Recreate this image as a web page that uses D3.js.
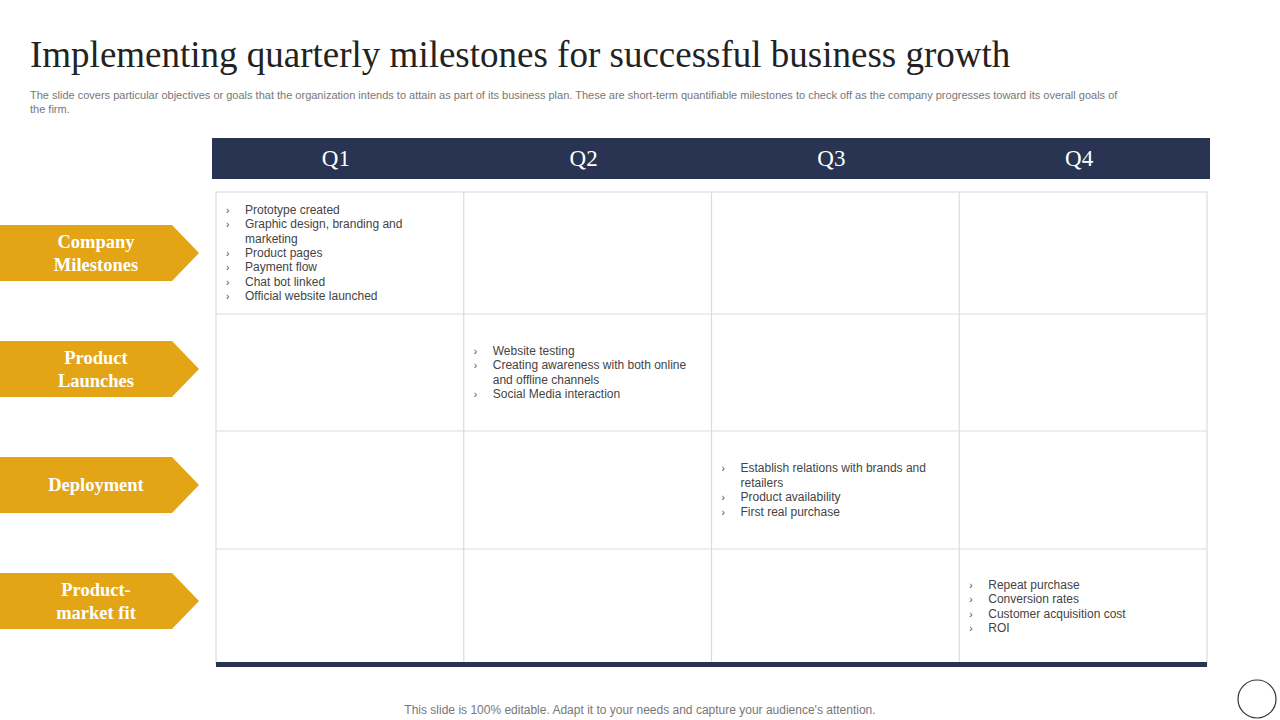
<!DOCTYPE html>
<html lang="en">
<head>
<meta charset="UTF-8">
<title>Quarterly milestones</title>
<script src="https://d3js.org/d3.v7.min.js"></script>
<style>
  body { margin: 0; background: #fff; }
  svg { display: block; }
</style>
</head>
<body>
<svg id="chart" width="1280" height="720"></svg>
<script>
// quarters across the top, stages down the side
const quarters = ["Q1", "Q2", "Q3", "Q4"];
const stages = [["Company", "Milestones"], ["Product", "Launches"], ["Deployment"], ["Product-", "market fit"]];
// each stage's items live in the matching quarter (diagonal); lines pre-wrapped
const items = [
  [["Prototype  created"], ["Graphic design, branding and", "marketing"], ["Product pages"], ["Payment flow"], ["Chat bot linked"], ["Official website launched"]],
  [["Website testing"], ["Creating awareness with both online", "and offline channels"], ["Social Media interaction"]],
  [["Establish relations with brands and", "retailers"], ["Product availability"], ["First real purchase"]],
  [["Repeat purchase"], ["Conversion rates"], ["Customer acquisition cost"], ["ROI"]]
];
const rowEdges = [192, 314, 431, 549, 664];

const svg = d3.select("#chart");
const serif = "'Liberation Serif', 'DejaVu Serif', serif";
const sans = "'Liberation Sans', Arial, sans-serif";

svg.append("text").attr("x", 30).attr("y", 67)
  .style("font-family", serif).style("font-size", "37px").attr("fill", "#222")
  .text("Implementing quarterly milestones for successful business growth");

const sub = ["The slide covers particular objectives or goals that the organization intends to attain as part of its business plan. These are short-term quantifiable milestones to check off as the company progresses toward its overall goals of",
  "the firm."];
svg.append("text").style("font-family", sans).style("font-size", "11px").attr("fill", "#777")
  .selectAll("tspan").data(sub).join("tspan")
  .attr("x", 30).attr("y", (d, i) => 99 + i * 14).text(d => d);

const x = d3.scaleBand().domain(quarters).range([216, 1207]);

// header band
svg.append("rect").attr("x", 212).attr("y", 138).attr("width", 998).attr("height", 41).attr("fill", "#283451");
svg.selectAll(".qh").data(quarters).join("text")
  .attr("x", d => x(d) + x.bandwidth() / 2 - 4).attr("y", 166).attr("text-anchor", "middle")
  .style("font-family", serif).style("font-size", "23px").attr("fill", "#fff").text(d => d);

// grid
const grid = svg.append("g").attr("stroke", "#dcdcdc").attr("stroke-width", 1.2).attr("fill", "none");
grid.append("rect").attr("x", 216).attr("y", rowEdges[0]).attr("width", 991).attr("height", rowEdges[4] - rowEdges[0]);
quarters.slice(1).forEach(q => grid.append("line").attr("x1", x(q)).attr("x2", x(q)).attr("y1", rowEdges[0]).attr("y2", rowEdges[4]));
rowEdges.slice(1, 4).forEach(y => grid.append("line").attr("x1", 216).attr("x2", 1207).attr("y1", y).attr("y2", y));
svg.append("rect").attr("x", 216).attr("y", 662).attr("width", 991).attr("height", 5).attr("fill", "#283451");

// stage arrows
stages.forEach((lines, i) => {
  const cy = 253 + i * 116;
  svg.append("path")
    .attr("d", `M0,${cy - 28}H172L199,${cy}L172,${cy + 28}H0Z`).attr("fill", "#e3a515");
  svg.append("text").attr("text-anchor", "middle")
    .style("font-family", serif).style("font-size", "18.5px").style("font-weight", "bold").attr("fill", "#fff")
    .selectAll("tspan").data(lines).join("tspan")
    .attr("x", 96).attr("y", (d, j) => cy + 6 + (j - (lines.length - 1) / 2) * 23).text(d => d);
});

// cell bullet lists
const lh = 14.4;
items.forEach((list, i) => {
  const flat = [];
  list.forEach(it => it.forEach((ln, k) => flat.push({ ln, bullet: k === 0 })));
  const cx = x(quarters[i]);
  const mid = (rowEdges[i] + rowEdges[i + 1]) / 2;
  const y0 = mid - (flat.length - 1) * lh / 2 + 4;
  const g = svg.append("g").style("font-family", sans).style("font-size", "12px").attr("fill", "#444");
  flat.forEach((d, k) => {
    if (d.bullet) g.append("text").attr("x", cx + 10).attr("y", y0 + k * lh).style("font-size", "10px").text("›");
    g.append("text").attr("x", cx + 29).attr("y", y0 + k * lh).text(d.ln);
  });
});

svg.append("text").attr("x", 640).attr("y", 714).attr("text-anchor", "middle")
  .style("font-family", sans).style("font-size", "12px").attr("fill", "#777")
  .text("This slide is 100% editable. Adapt it to your needs and capture your audience's attention.");

svg.append("circle").attr("cx", 1257).attr("cy", 699).attr("r", 19).attr("fill", "#fff").attr("stroke", "#333").attr("stroke-width", 1.2);
</script>
</body>
</html>
